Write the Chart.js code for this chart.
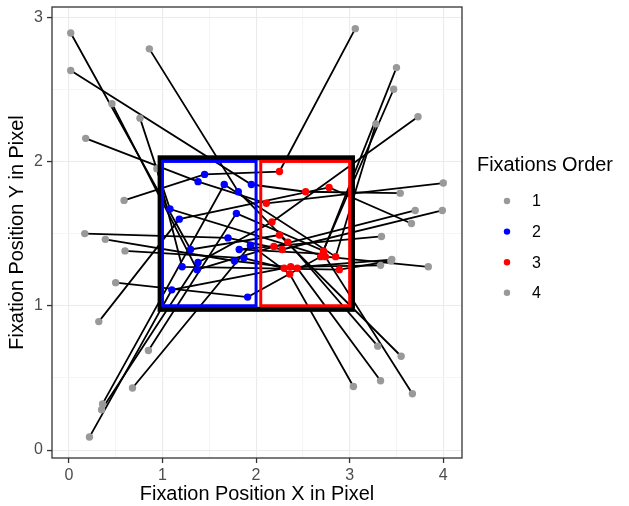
<!DOCTYPE html>
<html>
<head>
<meta charset="utf-8">
<script src="https://cdn.jsdelivr.net/npm/chart.js@4"></script>
<style>
  html, body { margin: 0; padding: 0; background: #fff; }
  #wrap { width: 629px; height: 506px; }
</style>
</head>
<body>
<div id="wrap"><canvas id="chart" width="629" height="506"></canvas></div>
<script>
// fixation positions per trial (1 -> 2 -> 3 -> 4)
const fix1X = [0.02, 0.02, 0.86, 0.46, 0.76, 0.18, 0.59, 0.17, 0.39, 0.60, 0.50, 0.32, 0.85, 0.68, 0.36, 0.35, 0.22, 3.34, 0.94];
const fix1Y = [2.89, 2.63, 2.78, 2.40, 2.30, 2.16, 1.73, 1.50, 1.46, 1.38, 1.16, 0.89, 0.69, 0.43, 0.32, 0.28, 0.09, 1.48, 1.95];
const fix2X = [1.30, 1.95, 1.81, 1.37, 1.08, 1.38, 1.45, 1.70, 1.77, 1.87, 1.91, 1.18, 1.79, 1.94, 1.66, 1.38, 1.10, 1.82, 1.21];
const fix2Y = [1.39, 1.84, 1.79, 1.25, 1.67, 1.86, 1.91, 1.47, 1.31, 1.33, 1.06, 1.60, 1.64, 1.42, 1.84, 1.30, 1.11, 1.39, 1.27];
const fix3X = [2.25, 2.53, 2.34, 2.19, 2.74, 2.11, 2.25, 2.28, 2.44, 2.30, 2.69, 2.78, 2.72, 2.36, 2.85, 2.17, 2.37, 2.72, 2.89];
const fix3Y = [1.49, 1.79, 1.44, 1.41, 1.34, 1.71, 1.93, 1.39, 1.26, 1.26, 1.34, 1.82, 1.38, 1.22, 1.34, 1.58, 1.27, 1.36, 1.25];
const fix4X = [3.55, 3.54, 3.30, 3.70, 3.84, 4.00, 3.06, 3.99, 3.33, 3.45, 3.47, 3.66, 3.50, 3.04, 3.28, 3.73, 3.33, 3.67, 3.44];
const fix4Y = [0.65, 1.78, 0.72, 1.66, 1.27, 1.85, 2.92, 1.66, 0.48, 1.32, 2.50, 1.57, 2.65, 0.44, 2.26, 2.31, 1.28, 0.39, 1.31];

const orderLabels = ["1", "2", "3", "4"];
const orderColors = ["#999999", "#0000FF", "#FF0000", "#999999"];

const xTickValues = [0, 0.5, 1, 1.5, 2, 2.5, 3, 3.5, 4];
const yTickValues = [0, 0.5, 1, 1.5, 2, 2.5, 3];

// areas of interest: outer frame, left (blue) and right (red)
const aoiX0 = [0.975, 1.0, 2.05];
const aoiX1 = [3.03, 2.0, 3.0];
const aoiY0 = [0.975, 1.0, 1.0];
const aoiY1 = [2.025, 2.0, 2.0];
const aoiColors = ["#000000", "#0000FF", "#FF0000"];

const FONT = "'Liberation Sans', Arial, sans-serif";

const fixX = [fix1X, fix2X, fix3X, fix4X];
const fixY = [fix1Y, fix2Y, fix3Y, fix4Y];

let datasets = [];

orderLabels.forEach((lab, k) => {
    datasets.push({
        type: "scatter",
        label: lab,
        data: fixX[k].map((x, i) => ({ x: x, y: fixY[k][i] })),
        backgroundColor: orderColors[k],
        borderColor: orderColors[k],
        pointRadius: 3.7,
        pointBorderWidth: 0,
        order: 0
    });
});

fix1X.forEach((x, i) => {
    datasets.push({
        type: "line",
        label: "trial" + (i + 1),
        data: [0, 1, 2, 3].map(k => ({ x: fixX[k][i], y: fixY[k][i] })),
        borderColor: "#000000",
        borderWidth: 1.8,
        pointRadius: 0,
        fill: false,
        tension: 0,
        order: 1
    });
});

const aoiPlugin = {
    id: "aoi",
    afterDatasetsDraw(chart) {
        const ctx = chart.ctx;
        const xs = chart.scales.x, ys = chart.scales.y;
        ctx.save();
        aoiX0.forEach((v, i) => {
            const l = xs.getPixelForValue(aoiX0[i]);
            const r = xs.getPixelForValue(aoiX1[i]);
            const t = ys.getPixelForValue(aoiY1[i]);
            const b = ys.getPixelForValue(aoiY0[i]);
            ctx.strokeStyle = aoiColors[i];
            ctx.lineWidth = i === 0 ? 5 : 3;
            ctx.lineJoin = "miter";
            ctx.strokeRect(l, t, r - l, b - t);
        });
        ctx.restore();
    },
    afterDraw(chart) {
        const ctx = chart.ctx;
        const a = chart.chartArea;
        ctx.save();
        // panel border
        ctx.strokeStyle = "#333333";
        ctx.lineWidth = 1.3;
        ctx.strokeRect(a.left, a.top, a.right - a.left, a.bottom - a.top);
        // legend
        ctx.fillStyle = "#000000";
        ctx.font = "19.9px " + FONT;
        ctx.textBaseline = "middle";
        ctx.textAlign = "left";
        ctx.fillText("Fixations Order", 477, 166);
        ctx.font = "16px " + FONT;
        orderLabels.forEach((lab, k) => {
            const cy = 201 + k * 30.6;
            ctx.beginPath();
            ctx.fillStyle = orderColors[k];
            ctx.arc(507, cy, 3.2, 0, Math.PI * 2);
            ctx.fill();
            ctx.fillStyle = "#000000";
            ctx.fillText(lab, 532, cy + 1);
        });
        ctx.restore();
    }
};

function gridColor(c) {
    return Number.isInteger(c.tick.value) ? "#EBEBEB" : "#F5F5F5";
}
function tickMarkColor(c) {
    return Number.isInteger(c.tick.value) ? "#333333" : "rgba(0,0,0,0)";
}

new Chart(document.querySelector("#chart"), {
    type: "scatter",
    data: { datasets: datasets },
    options: {
        responsive: false,
        animation: false,
        events: [],
        layout: { padding: { top: 7, right: 167, left: 0, bottom: 0 } },
        plugins: {
            legend: { display: false },
            tooltip: { enabled: false }
        },
        scales: {
            x: {
                type: "linear",
                min: -0.18,
                max: 4.2,
                afterBuildTicks: scale => { scale.ticks = xTickValues.map(v => ({ value: v })); },
                afterFit: scale => { scale.height = 48; scale.paddingLeft = 0; scale.paddingRight = 0; },
                border: { display: false },
                grid: {
                    color: gridColor,
                    lineWidth: 1.1,
                    tickColor: tickMarkColor,
                    tickLength: 5,
                    tickWidth: 1.3
                },
                ticks: {
                    autoSkip: false,
                    maxRotation: 0,
                    padding: 3,
                    color: "#4D4D4D",
                    font: { family: FONT, size: 16 },
                    callback: v => Number.isInteger(v) ? String(v) : ""
                },
                title: {
                    display: true,
                    text: "Fixation Position X in Pixel",
                    color: "#000000",
                    font: { family: FONT, size: 19.9 },
                    padding: { top: 0, bottom: 0 }
                }
            },
            y: {
                type: "linear",
                min: -0.055,
                max: 3.07,
                afterBuildTicks: scale => { scale.ticks = yTickValues.map(v => ({ value: v })); },
                afterFit: scale => { scale.width = 52; scale.paddingTop = 0; scale.paddingBottom = 0; },
                border: { display: false },
                grid: {
                    color: gridColor,
                    lineWidth: 1.1,
                    tickColor: tickMarkColor,
                    tickLength: 5,
                    tickWidth: 1.3
                },
                ticks: {
                    autoSkip: false,
                    padding: 4,
                    color: "#4D4D4D",
                    font: { family: FONT, size: 16 },
                    callback: v => Number.isInteger(v) ? String(v) : ""
                },
                title: {
                    display: true,
                    text: "Fixation Position Y in Pixel",
                    color: "#000000",
                    font: { family: FONT, size: 19.9 },
                    padding: { top: 6, bottom: 0 }
                }
            }
        }
    },
    plugins: [aoiPlugin]
});
</script>
</body>
</html>
